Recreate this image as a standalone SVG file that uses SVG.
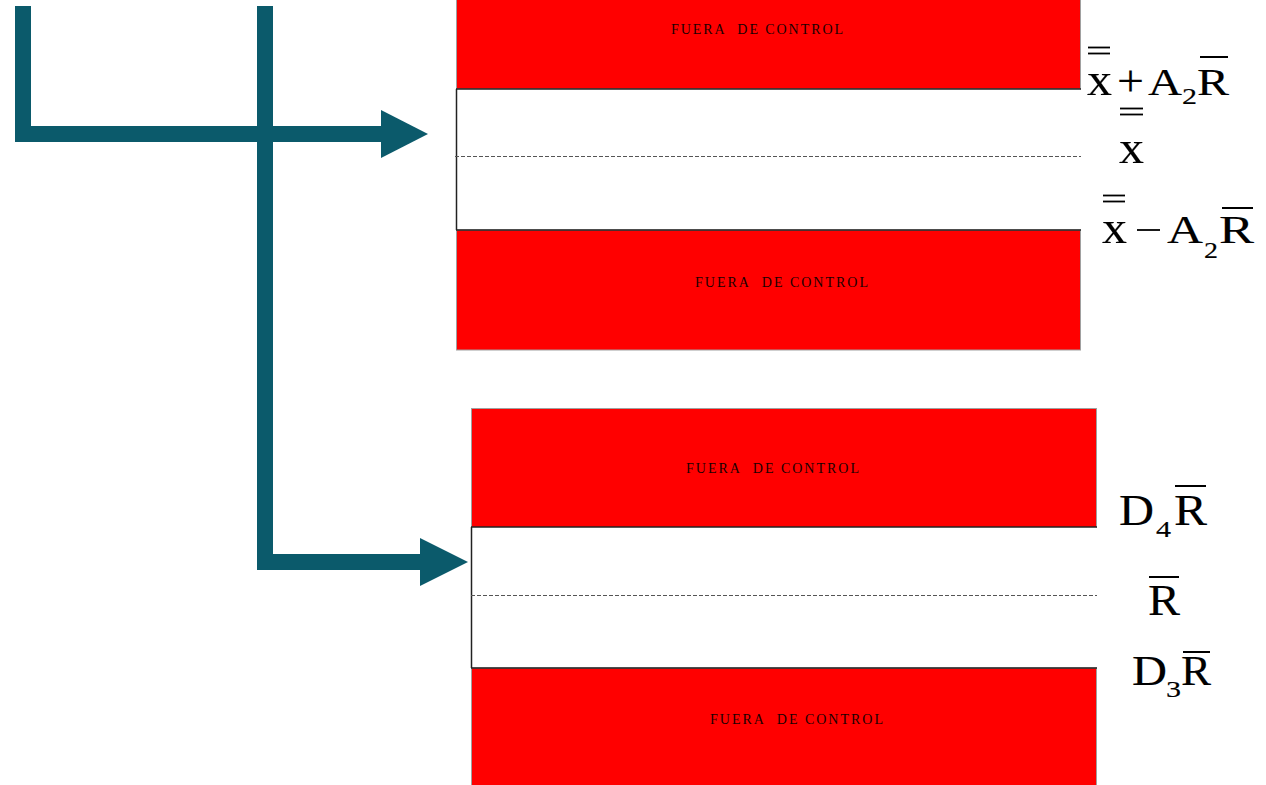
<svg xmlns="http://www.w3.org/2000/svg" width="1266" height="785" viewBox="0 0 1266 785">
<style>
.red{fill:#FF0000;stroke:#a0a0a0;stroke-width:1}
.zone{fill:#fff;stroke:none}
.edge{stroke:#222;stroke-width:1.5;fill:none}
.dash{stroke:#555;stroke-width:1;stroke-dasharray:4 2;fill:none}
.lbl{font-family:'Liberation Serif','Times New Roman',serif;font-size:14px;fill:#1a0000}
.f{font-family:'Liberation Serif','Times New Roman',serif;fill:#000;stroke:#000;stroke-width:0.15}
.ov{stroke:#000;stroke-width:2}
.eq{stroke:#000;stroke-width:1.8}
.bar{fill:#0B5A6B}
</style>
<rect width="1266" height="785" fill="#fff"/>
<g id="connectors">
  <rect class="bar" x="15" y="6" width="16" height="136"/>
  <rect class="bar" x="15" y="126" width="367" height="16"/>
  <polygon class="bar" points="381,110 428,134 381,158"/>
  <rect class="bar" x="257" y="6" width="16" height="564"/>
  <rect class="bar" x="257" y="554" width="164" height="16"/>
  <polygon class="bar" points="420,538 468,562 420,586"/>
</g>
<g id="chart-xbar">
  <rect class="red" x="456.5" y="-1" width="624" height="90"/>
  <rect class="zone" x="456.5" y="89" width="624" height="141"/>
  <rect class="red" x="456.5" y="230" width="624" height="120"/>
  <line class="edge" x1="456" y1="89" x2="1081" y2="89"/>
  <line class="edge" x1="456" y1="230" x2="1081" y2="230"/>
  <line class="edge" x1="456.5" y1="89" x2="456.5" y2="230"/>
  <line class="dash" x1="455" y1="156.5" x2="1081" y2="156.5"/>
  <text class="lbl" x="671" y="34" textLength="172" lengthAdjust="spacing">FUERA&#160; DE CONTROL</text>
  <text class="lbl" x="695" y="287" textLength="173" lengthAdjust="spacing">FUERA&#160; DE CONTROL</text>
</g>
<g id="chart-r">
  <rect class="red" x="471.5" y="408.5" width="625" height="119"/>
  <rect class="zone" x="471.5" y="527" width="625" height="141"/>
  <rect class="red" x="471.5" y="668" width="625" height="120"/>
  <line class="edge" x1="471" y1="527" x2="1097" y2="527"/>
  <line class="edge" x1="471" y1="668" x2="1097" y2="668"/>
  <line class="edge" x1="471.5" y1="527" x2="471.5" y2="668"/>
  <line class="dash" x1="471" y1="595.5" x2="1097" y2="595.5"/>
  <text class="lbl" x="686" y="473" textLength="173" lengthAdjust="spacing">FUERA&#160; DE CONTROL</text>
  <text class="lbl" x="710" y="724" textLength="173" lengthAdjust="spacing">FUERA&#160; DE CONTROL</text>
</g>
<g id="label-ucl-x">
  <line class="eq" x1="1088" y1="47.5" x2="1110" y2="47.5"/>
  <line class="eq" x1="1088" y1="53.5" x2="1110" y2="53.5"/>
  <text class="f" x="1087" y="95" font-size="47" textLength="25" lengthAdjust="spacingAndGlyphs">x</text>
  <text class="f" x="1117" y="96" font-size="44" textLength="27" lengthAdjust="spacingAndGlyphs">+</text>
  <text class="f" x="1148" y="95" font-size="38" textLength="34" lengthAdjust="spacingAndGlyphs">A</text>
  <text class="f" x="1182" y="104" font-size="23" textLength="15" lengthAdjust="spacingAndGlyphs">2</text>
  <text class="f" x="1197" y="95" font-size="38" textLength="32" lengthAdjust="spacingAndGlyphs">R</text>
  <line class="ov" x1="1200" y1="57" x2="1228" y2="57"/>
</g>
<g id="label-cl-x">
  <line class="eq" x1="1120" y1="108.5" x2="1143" y2="108.5"/>
  <line class="eq" x1="1120" y1="114.5" x2="1143" y2="114.5"/>
  <text class="f" x="1119" y="163" font-size="47" textLength="25" lengthAdjust="spacingAndGlyphs">x</text>
</g>
<g id="label-lcl-x">
  <line class="eq" x1="1103" y1="195.5" x2="1125" y2="195.5"/>
  <line class="eq" x1="1103" y1="201.5" x2="1125" y2="201.5"/>
  <text class="f" x="1102" y="243" font-size="47" textLength="25" lengthAdjust="spacingAndGlyphs">x</text>
  <line class="eq" x1="1137" y1="230" x2="1160" y2="230"/>
  <text class="f" x="1167" y="243" font-size="40" textLength="36" lengthAdjust="spacingAndGlyphs">A</text>
  <text class="f" x="1204" y="258" font-size="23" textLength="14" lengthAdjust="spacingAndGlyphs">2</text>
  <text class="f" x="1219" y="243" font-size="40" textLength="35" lengthAdjust="spacingAndGlyphs">R</text>
  <line class="ov" x1="1222" y1="208" x2="1253" y2="208"/>
</g>
<g id="label-ucl-r">
  <text class="f" x="1119" y="525" font-size="44" textLength="35" lengthAdjust="spacingAndGlyphs">D</text>
  <text class="f" x="1156" y="537" font-size="24" textLength="15" lengthAdjust="spacingAndGlyphs">4</text>
  <text class="f" x="1174" y="525" font-size="44" textLength="33" lengthAdjust="spacingAndGlyphs">R</text>
  <line class="ov" x1="1175" y1="486" x2="1206" y2="486"/>
</g>
<g id="label-cl-r">
  <text class="f" x="1148" y="615" font-size="44" textLength="32" lengthAdjust="spacingAndGlyphs">R</text>
  <line class="ov" x1="1149" y1="577" x2="1179" y2="577"/>
</g>
<g id="label-lcl-r">
  <text class="f" x="1132" y="685" font-size="42" textLength="35" lengthAdjust="spacingAndGlyphs">D</text>
  <text class="f" x="1166" y="697" font-size="23" textLength="15" lengthAdjust="spacingAndGlyphs">3</text>
  <text class="f" x="1181" y="685" font-size="42" textLength="30" lengthAdjust="spacingAndGlyphs">R</text>
  <line class="ov" x1="1183" y1="652" x2="1210" y2="652"/>
</g>
</svg>
